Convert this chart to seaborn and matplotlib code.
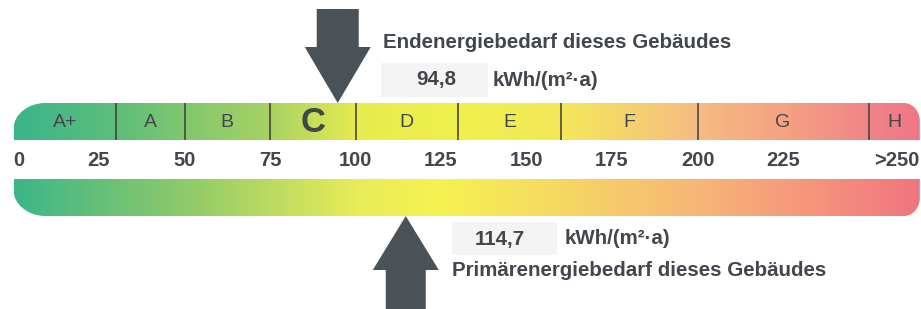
import numpy as np
import matplotlib.pyplot as plt
import seaborn as sns
from matplotlib.path import Path
from matplotlib.patches import PathPatch, Rectangle
from matplotlib.colors import LinearSegmentedColormap

# energy classes and scale
classes = ["A+", "A", "B", "C", "D", "E", "F", "G", "H"]
class_edges = [0, 30, 50, 75, 100, 130, 160, 200, 250, 265]
tick_values = [0, 25, 50, 75, 100, 125, 150, 175, 200, 225]
tick_labels = ["0", "25", "50", "75", "100", "125", "150", "175", "200", "225"]
last_label = ">250"

end_energy = 94.8
primary_energy = 114.7
end_value_text = "94,8"
primary_value_text = "114,7"
unit_text = "kWh/(m²·a)"
end_title = "Endenergiebedarf dieses Gebäudes"
primary_title = "Primärenergiebedarf dieses Gebäudes"

# colour stops along the scale
top_stop_values = [0, 30, 50, 75, 100, 130, 160, 200, 225, 250, 265]
top_stop_colors = ["#3bb58b", "#5dbe7a", "#82c76e", "#a9d263", "#e6ec4e", "#f0f04c",
                   "#f3e85a", "#f6bc82", "#f5a281", "#f08589", "#ee7786"]
bottom_stop_values = [0, 50, 100, 125, 160, 200, 235, 265]
bottom_stop_colors = ["#3db688", "#8fca6a", "#e8ec58", "#f6f251", "#f5d862",
                      "#f7b677", "#f5937c", "#f07580"]

sns.set_theme(style="white")
plt.rcParams["font.family"] = ["Liberation Sans", "DejaVu Sans"]

TEXT = "#41474c"
ARROW = "#4b5257"
X0_PX = 13.5
PX_PER_UNIT = 3.42


def u(px):
    return (px - X0_PX) / PX_PER_UNIT


def rounded_bar(x0, x1, y_flat, y_round, rl, rr):
    k = 0.5523
    d = 1 if y_flat > y_round else -1
    (rxl, ryl), (rxr, ryr) = rl, rr
    verts = [
        (x0, y_flat), (x0, y_round + d * ryl),
        (x0, y_round + d * ryl * (1 - k)), (x0 + rxl * (1 - k), y_round), (x0 + rxl, y_round),
        (x1 - rxr, y_round),
        (x1 - rxr * (1 - k), y_round), (x1, y_round + d * ryr * (1 - k)), (x1, y_round + d * ryr),
        (x1, y_flat), (x0, y_flat),
    ]
    codes = [Path.MOVETO, Path.LINETO, Path.CURVE4, Path.CURVE4, Path.CURVE4, Path.LINETO,
             Path.CURVE4, Path.CURVE4, Path.CURVE4, Path.LINETO, Path.CLOSEPOLY]
    return Path(verts, codes)


def gradient_bar(ax, values, colors, y_top, y_bot, path):
    lo, hi = values[0], values[-1]
    cmap = LinearSegmentedColormap.from_list(
        "scale", [((v - lo) / (hi - lo), c) for v, c in zip(values, colors)])
    grad = np.linspace(0, 1, 800).reshape(1, -1)
    patch = PathPatch(path, facecolor="none", edgecolor="none")
    ax.add_patch(patch)
    im = ax.imshow(grad, cmap=cmap, aspect="auto", extent=(lo, hi, y_bot, y_top),
                   interpolation="bilinear", zorder=1)
    im.set_clip_path(patch)


def arrow(ax, x_tip, y_tip, y_head, y_tail, head_w, shaft_w):
    xs = [x_tip, x_tip - head_w / 2, x_tip - shaft_w / 2, x_tip - shaft_w / 2,
          x_tip + shaft_w / 2, x_tip + shaft_w / 2, x_tip + head_w / 2]
    ys = [y_tip, y_head, y_head, y_tail, y_tail, y_head, y_head]
    ax.fill(xs, ys, color=ARROW, lw=0, zorder=5)


fig = plt.figure(figsize=(9.21, 3.09), dpi=100)
ax = fig.add_axes([0, 0, 1, 1])
ax.set_xlim(u(0), u(921))
ax.set_ylim(309, 0)
ax.axis("off")

x_end = class_edges[-1]
left_r = (u(45) - u(13), 26)
right_r = (u(918) - u(902), 18)

# top bar with classes
top_y0, top_y1 = 103, 140
gradient_bar(ax, top_stop_values, top_stop_colors, top_y0, top_y1,
             rounded_bar(0, x_end, top_y1, top_y0, left_r, right_r))
ax.vlines(class_edges[1:-1], top_y0, top_y1, color="#3c3c3c", lw=1.1, zorder=3)
for i, name in enumerate(classes):
    mid = (class_edges[i] + class_edges[i + 1]) / 2
    active = class_edges[i] <= end_energy < class_edges[i + 1]
    ax.text(mid, (top_y0 + top_y1) / 2 + 1, name, ha="center", va="center",
            color=TEXT, fontsize=25 if active else 14,
            fontweight="bold" if active else "normal", zorder=4)

# scale ticks
tick_y = 160
for v, lab in zip(tick_values, tick_labels):
    ax.text(v, tick_y, lab, ha="left" if v == 0 else "center", va="center",
            color=TEXT, fontsize=14.5, fontweight="bold")
ax.text(x_end, tick_y, last_label, ha="right", va="center", color=TEXT,
        fontsize=14.5, fontweight="bold")

# bottom gradient bar
bot_y0, bot_y1 = 179, 216
gradient_bar(ax, bottom_stop_values, bottom_stop_colors, bot_y0, bot_y1,
             rounded_bar(0, x_end, bot_y0, bot_y1, left_r, right_r))

# arrows
head_w = 66 / PX_PER_UNIT
arrow(ax, end_energy, top_y0, 47, 9, head_w, 42 / PX_PER_UNIT)
arrow(ax, primary_energy, bot_y1, 270, 312, head_w, 40 / PX_PER_UNIT)

# end energy labels
ax.text(u(383), 42, end_title, ha="left", va="center", color=TEXT, fontsize=14.8,
        fontweight="bold")
ax.add_patch(Rectangle((u(381), 63), u(488) - u(381), 34, color="#f4f4f4", lw=0, zorder=0))
ax.text(u(436), 80, end_value_text, ha="center", va="center", color=TEXT, fontsize=14.8,
        fontweight="bold")
ax.text(u(493), 80, unit_text, ha="left", va="center", color=TEXT, fontsize=14.8,
        fontweight="bold")

# primary energy labels
ax.add_patch(Rectangle((u(452), 222), u(557) - u(452), 33, color="#f4f4f4", lw=0, zorder=0))
ax.text(u(500), 239, primary_value_text, ha="center", va="center", color=TEXT, fontsize=14.8,
        fontweight="bold")
ax.text(u(565), 239, unit_text, ha="left", va="center", color=TEXT, fontsize=14.8,
        fontweight="bold")
ax.text(u(452), 271, primary_title, ha="left", va="center", color=TEXT, fontsize=14.8,
        fontweight="bold")

fig.savefig("out.png", dpi=100, facecolor="white")
